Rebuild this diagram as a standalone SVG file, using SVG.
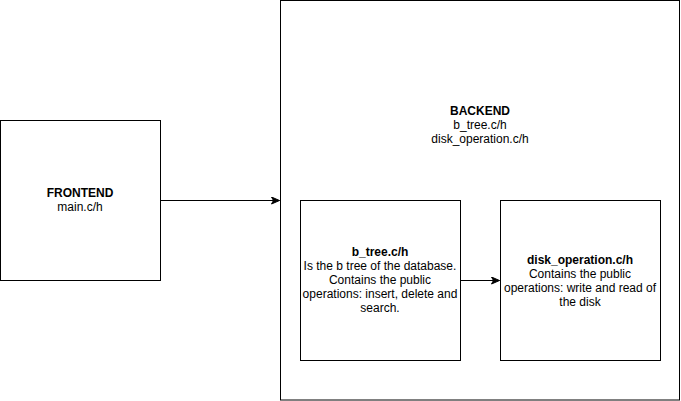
<svg xmlns="http://www.w3.org/2000/svg" width="681" height="401" viewBox="0 0 681 401">
<style>
.box{fill:#ffffff;stroke:#000000;stroke-width:1}
.t{font-family:"Liberation Sans",Arial,Helvetica,sans-serif;font-size:12px;fill:#000000;text-anchor:middle}
.b{font-weight:bold}
.edge{fill:none;stroke:#000000;stroke-width:1}
</style>
<defs>
<marker id="arr" viewBox="0 0 10 8" refX="9" refY="4" markerWidth="10" markerHeight="8" markerUnits="userSpaceOnUse" orient="auto">
<path d="M1,0.5 L9,4 L1,7.5 L3,4 Z" fill="#000000" stroke="#000000" stroke-width="1"/>
</marker>
</defs>
<rect width="681" height="401" fill="#ffffff"/>
<g id="backend">
<rect class="box" x="280.5" y="0.5" width="399" height="399.5"/>
<text class="t b" x="480" y="115">BACKEND</text>
<text class="t" x="480" y="129">b_tree.c/h</text>
<text class="t" x="480" y="143">disk_operation.c/h</text>
</g>
<g id="frontend">
<rect class="box" x="0.5" y="120.5" width="160" height="160"/>
<text class="t b" x="80" y="197">FRONTEND</text>
<text class="t" x="80" y="211">main.c/h</text>
</g>
<g id="btree">
<rect class="box" x="300.5" y="200.5" width="160" height="160"/>
<text class="t b" x="380" y="256">b_tree.c/h</text>
<text class="t" x="380" y="270">Is the b tree of the database.</text>
<text class="t" x="380" y="284">Contains the public</text>
<text class="t" x="380" y="298">operations: insert, delete and</text>
<text class="t" x="380" y="312">search.</text>
</g>
<g id="disk">
<rect class="box" x="500.5" y="200.5" width="160" height="160"/>
<text class="t b" x="580" y="264">disk_operation.c/h</text>
<text class="t" x="580" y="278">Contains the public</text>
<text class="t" x="580" y="292">operations: write and read of</text>
<text class="t" x="580" y="306">the disk</text>
</g>
<g id="connectors">
<path class="edge" d="M160.5,200.5 L279.5,200.5" marker-end="url(#arr)"/>
<path class="edge" d="M460.5,280.5 L499.5,280.5" marker-end="url(#arr)"/>
</g>
</svg>
